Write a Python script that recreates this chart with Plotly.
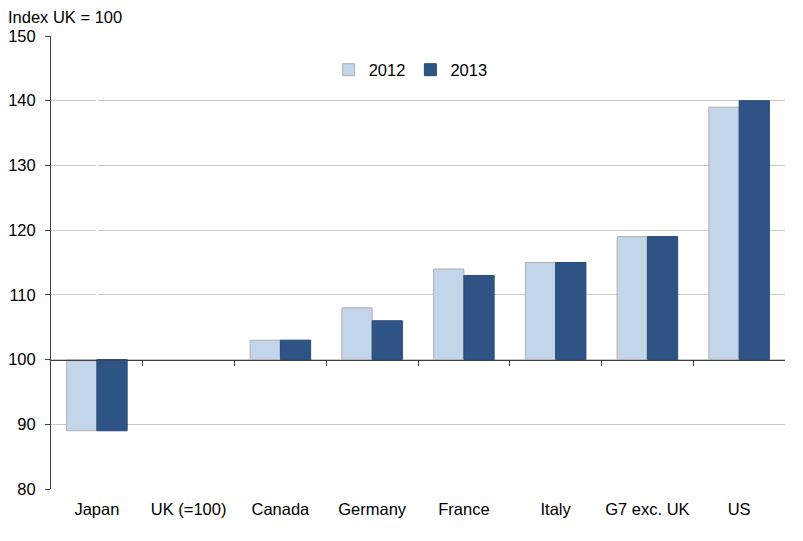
import plotly.graph_objects as go

categories = ["Japan", "UK (=100)", "Canada", "Germany", "France", "Italy", "G7 exc. UK", "US"]
values_2012 = [89, 100, 103, 108, 114, 115, 119, 139]
values_2013 = [89, 100, 103, 106, 113, 115, 119, 140]
y_ticks = [80, 90, 100, 110, 120, 130, 140, 150]
base_value = 100

font_family = "Liberation Sans, Arial, sans-serif"
fs = 16.5

fig = go.Figure()
fig.add_trace(go.Bar(
    name="2012", x=categories, y=[v - base_value for v in values_2012], base=base_value,
    marker=dict(color="#C3D5E9", line=dict(color="#B0B0B0",
                width=[0 if v == base_value else 1 for v in values_2012])),
))
fig.add_trace(go.Bar(
    name="2013", x=categories, y=[v - base_value for v in values_2013], base=base_value,
    marker=dict(color="#2E5486", line=dict(color="#2A4A78",
                width=[0 if v == base_value else 1 for v in values_2013])),
))
# invisible trace to drive the axis at y=100
fig.add_trace(go.Scatter(x=[0, len(categories) - 1], y=[base_value, base_value], xaxis="x2",
                         mode="lines", line=dict(width=0), showlegend=False, hoverinfo="skip"))

fig.update_layout(
    width=803, height=541,
    margin=dict(l=43, r=26, t=28, b=60),
    paper_bgcolor="white", plot_bgcolor="white",
    font=dict(family=font_family, size=fs, color="#000000"),
    barmode="group", bargap=0.34, bargroupgap=0,
    showlegend=True,
    legend=dict(orientation="h", x=0.49, xanchor="center", y=0.925, yanchor="middle",
                font=dict(size=fs), itemwidth=30, traceorder="normal", bgcolor="rgba(0,0,0,0)"),
    xaxis=dict(showline=False, ticks="", showgrid=False, tickfont=dict(size=fs), automargin=False,
               ticklabelstandoff=8, range=[-0.5, len(categories) - 0.5]),
    xaxis2=dict(overlaying="x", anchor="free", position=(base_value - 80) / 70, automargin=False,
                range=[-0.5, len(categories) - 0.5], showline=True, linecolor="#404040", linewidth=1,
                tickmode="array", tickvals=[i + 0.5 for i in range(len(categories) - 1)],
                ticks="outside", ticklen=5, tickcolor="#404040", showticklabels=False, showgrid=False),
    yaxis=dict(range=[80, 150], tickvals=y_ticks, showgrid=True, gridcolor="#C8C8C8", gridwidth=1,
               showline=True, linecolor="#404040", linewidth=1, ticks="outside", ticklen=5,
               tickcolor="#404040", tickfont=dict(size=fs), zeroline=False, automargin=False,
               ticklabelstandoff=6),
    annotations=[dict(text="Index UK = 100", xref="paper", yref="paper", x=-45 / 734, y=1,
                      xanchor="left", yanchor="bottom", yshift=8, showarrow=False,
                      font=dict(size=fs))],
)

fig.write_html("out.html")
